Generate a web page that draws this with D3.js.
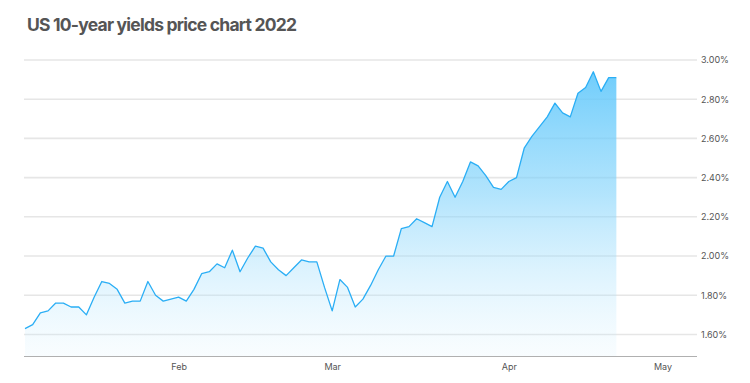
<!DOCTYPE html>
<html>
<head>
<meta charset="utf-8">
<script src="https://cdn.jsdelivr.net/npm/d3@7"></script>
<style>
  html, body { margin: 0; padding: 0; background: #ffffff; }
  svg { display: block; }
</style>
</head>
<body>
<div id="chart"></div>
<script>
// ---- Data (US 10-year Treasury yield, % , trading days Jan 3 – Apr 22, 2022) ----
const yields = [
  1.63, 1.65, 1.71, 1.72, 1.76, 1.76, 1.74, 1.74, 1.70, 1.79,
  1.87, 1.86, 1.83, 1.76, 1.77, 1.77, 1.87, 1.80, 1.77, 1.78,
  1.79, 1.77, 1.83, 1.91, 1.92, 1.96, 1.94, 2.03, 1.92, 1.99,
  2.05, 2.04, 1.97, 1.93, 1.90, 1.94, 1.98, 1.97, 1.97, 1.84,
  1.72, 1.88, 1.84, 1.74, 1.78, 1.85, 1.93, 2.00, 2.00, 2.14,
  2.15, 2.19, 2.17, 2.15, 2.30, 2.38, 2.30, 2.38, 2.48, 2.46,
  2.41, 2.35, 2.34, 2.38, 2.40, 2.55, 2.61, 2.66, 2.71, 2.78,
  2.73, 2.71, 2.83, 2.86, 2.94, 2.84, 2.91, 2.91
];
// month labels and the trading-day index at which each month starts
const monthLabels = ["Feb", "Mar", "Apr", "May"];
const monthStartIndex = [20, 40, 63, 83];
const yTicks = [1.6, 1.8, 2.0, 2.2, 2.4, 2.6, 2.8, 3.0];
const titleText = "US 10-year yields price chart 2022";

// ---- Layout ----
const W = 750, H = 383;
const plot = { left: 24, right: 697, top: 60, bottom: 356 };

const svg = d3.select("#chart").append("svg")
  .attr("width", W).attr("height", H);

const x = d3.scaleLinear().domain([0, 87.5]).range([25, plot.right]);
const y = d3.scaleLinear().domain([1.49, 3.0]).range([plot.bottom, plot.top]);

// gradient
const defs = svg.append("defs");
const grad = defs.append("linearGradient")
  .attr("id", "fillGrad")
  .attr("gradientUnits", "userSpaceOnUse")
  .attr("x1", 0).attr("x2", 0)
  .attr("y1", plot.top).attr("y2", plot.bottom);
grad.append("stop").attr("offset", "0%").attr("stop-color", "#5cc6fb").attr("stop-opacity", 0.92);
grad.append("stop").attr("offset", "45%").attr("stop-color", "#7ed2fb").attr("stop-opacity", 0.6);
grad.append("stop").attr("offset", "100%").attr("stop-color", "#c9ecfd").attr("stop-opacity", 0.12);

// title
const title = svg.append("text")
  .attr("x", 27).attr("y", 31)
  .attr("font-family", "Inter, 'Noto Sans', sans-serif")
  .attr("font-weight", 700)
  .attr("font-size", 17.5)
  .attr("fill", "#555555")
  .text(titleText);
// fit title width to reference (~270px) via letter-spacing
{
  const target = 270;
  const len = title.node().getComputedTextLength();
  const n = titleText.length - 1;
  title.attr("letter-spacing", ((target - len) / n).toFixed(3));
}

// gridlines
svg.append("g").selectAll("line").data(yTicks).join("line")
  .attr("x1", plot.left).attr("x2", plot.right)
  .attr("y1", d => y(d)).attr("y2", d => y(d))
  .attr("stroke", "#e6e6e6").attr("stroke-width", 1.6);

// y axis labels on right
const yAxis = d3.axisRight(y).tickValues(yTicks).tickSize(0).tickPadding(0)
  .tickFormat(d => d3.format(".2f")(d) + "%");
const gy = svg.append("g").attr("transform", `translate(${plot.right + 4},0)`).call(yAxis);
gy.select(".domain").remove();
gy.selectAll("text")
  .attr("font-family", "Inter, 'Noto Sans', sans-serif")
  .attr("font-size", 9)
  .attr("fill", "#555555");

// area + line
const area = d3.area()
  .x((d, i) => x(i))
  .y0(plot.bottom)
  .y1(d => y(d));
const line = d3.line()
  .x((d, i) => x(i))
  .y(d => y(d));

svg.append("path").datum(yields)
  .attr("d", area)
  .attr("fill", "url(#fillGrad)");

svg.append("path").datum(yields)
  .attr("d", line)
  .attr("fill", "none")
  .attr("stroke", "#2aaef5")
  .attr("stroke-width", 1.3)
  .attr("stroke-linejoin", "round");

// bottom axis
const xAxis = d3.axisBottom(x).tickValues(monthStartIndex).tickSize(0).tickPadding(8)
  .tickFormat((d, i) => monthLabels[i]);
const gx = svg.append("g").attr("transform", `translate(0,${plot.bottom})`).call(xAxis);
gx.select(".domain").remove();
gx.selectAll("text")
  .attr("font-family", "Inter, 'Noto Sans', sans-serif")
  .attr("font-size", 9)
  .attr("fill", "#555555");
svg.append("line")
  .attr("x1", plot.left).attr("x2", plot.right)
  .attr("y1", plot.bottom + 0.5).attr("y2", plot.bottom + 0.5)
  .attr("stroke", "#b0b0b0").attr("stroke-width", 1);
</script>
</body>
</html>
